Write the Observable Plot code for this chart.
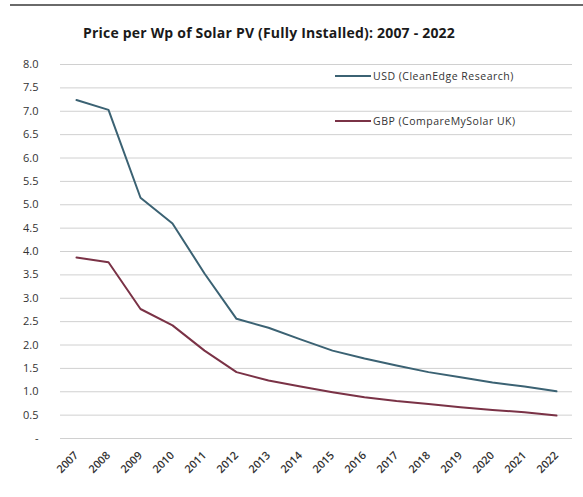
<!DOCTYPE html>
<html>
<head>
<meta charset="utf-8">
<script src="https://cdn.jsdelivr.net/npm/d3@7"></script>
<script src="https://cdn.jsdelivr.net/npm/@observablehq/plot@0.6"></script>
<style>
  html, body { margin: 0; padding: 0; background: #fff; }
  #wrap { position: relative; width: 583px; height: 497px; overflow: hidden; font-family: "Open Sans", "Liberation Sans", sans-serif; }
  #topline { position: absolute; left: 10px; right: 0; top: 4px; height: 2px; background: #6a6a6a; }
  #title { position: absolute; left: 0; width: 538px; top: 23px; text-align: center; font-size: 14px; font-weight: 700; color: #1a1a1a; letter-spacing: 0.2px; }
  #chart { position: absolute; left: 0; top: 50px; }
  .leg { position: absolute; font-size: 10.5px; color: #333; display: flex; align-items: center; white-space: nowrap; letter-spacing: 0.5px; }
  .leg span.sw { display: inline-block; width: 36px; height: 2px; margin-right: 2px; }
</style>
</head>
<body>
<div id="wrap">
  <div id="topline"></div>
  <div id="title">Price per Wp of Solar PV (Fully Installed): 2007 - 2022</div>
  <div id="chart"></div>
  <div id="legend"></div>
</div>
<script>
const years = ["2007","2008","2009","2010","2011","2012","2013","2014","2015","2016","2017","2018","2019","2020","2021","2022"];
const usd = [7.24, 7.03, 5.15, 4.6, 3.53, 2.56, 2.37, 2.12, 1.88, 1.71, 1.56, 1.42, 1.31, 1.2, 1.11, 1.01];
const gbp = [3.87, 3.77, 2.77, 2.42, 1.88, 1.42, 1.24, 1.11, 0.99, 0.88, 0.8, 0.74, 0.67, 0.61, 0.56, 0.49];
const seriesNames = ["USD (CleanEdge Research)", "GBP (CompareMySolar UK)"];
const seriesColors = ["#3b6273", "#7a3246"];
const yTicks = [0, 0.5, 1, 1.5, 2, 2.5, 3, 3.5, 4, 4.5, 5, 5.5, 6, 6.5, 7, 7.5, 8];

const rows = [];
years.forEach((y, i) => {
  rows.push({year: y, value: usd[i], series: seriesNames[0]});
  rows.push({year: y, value: gbp[i], series: seriesNames[1]});
});

const plot = Plot.plot({
  width: 583,
  height: 447,
  marginLeft: 60,
  marginRight: 11,
  marginTop: 14,
  marginBottom: 59,
  style: {fontFamily: "'Open Sans', 'Liberation Sans', sans-serif", fontSize: "11px", color: "#333", background: "transparent"},
  x: {type: "point", domain: years, padding: 0.5, label: null},
  y: {domain: [0, 8], label: null},
  color: {domain: seriesNames, range: seriesColors},
  marks: [
    Plot.gridY(yTicks, {stroke: "#d0d0d0", strokeOpacity: 1, strokeWidth: 1}),
    Plot.axisY(yTicks, {tickSize: 0, tickPadding: 22, tickFormat: d => d === 0 ? "-" : d3.format(".1f")(d), fontSize: 11, fill: "#333"}),
    Plot.axisX(years, {tickSize: 0, tickPadding: 15, tickRotate: -45, fontSize: 11, fontWeight: 600, fill: "#333"}),
    Plot.line(rows, {x: "year", y: "value", z: "series", stroke: "series", strokeWidth: 2, curve: "linear"})
  ]
});
document.getElementById("chart").appendChild(plot);

// legend
const legend = document.getElementById("legend");
const legTops = [69, 114];
seriesNames.forEach((name, i) => {
  const d = document.createElement("div");
  d.className = "leg";
  d.style.left = "335px";
  d.style.top = legTops[i] + "px";
  d.innerHTML = `<span class="sw" style="background:${seriesColors[i]}"></span>${name}`;
  legend.appendChild(d);
});
</script>
</body>
</html>
